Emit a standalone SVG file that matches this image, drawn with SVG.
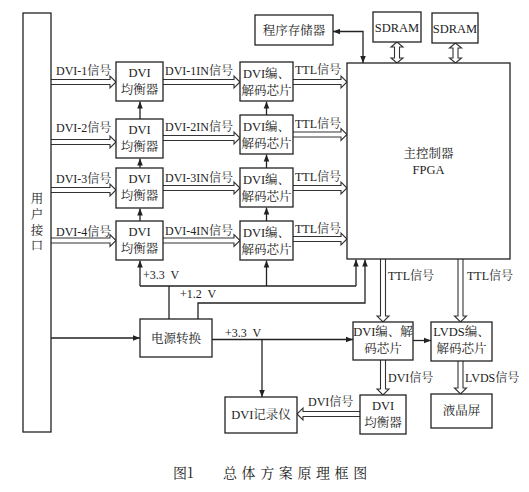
<svg xmlns="http://www.w3.org/2000/svg" width="529" height="492" viewBox="0 0 529 492">
<defs>
<style>
.box{fill:#fff;stroke:#222;stroke-width:1.3}
.ln{fill:none;stroke:#222;stroke-width:1.3}
.fat{fill:#fff;stroke:#333;stroke-width:1.1;stroke-linejoin:miter}
.t{font-family:"Liberation Serif","Noto Serif CJK SC","Noto Sans CJK SC",serif;font-size:12.5px;fill:#222}
.c{text-anchor:middle}
.l{font-family:"Liberation Serif","Noto Serif CJK SC","Noto Sans CJK SC",serif;font-size:12px;fill:#222}
.cap{font-family:"Noto Serif CJK SC","Noto Sans CJK SC",serif;font-size:14px;fill:#222}
</style>
<marker id="ah" viewBox="0 0 10 10" refX="10" refY="5" markerWidth="7" markerHeight="7" markerUnits="userSpaceOnUse" orient="auto-start-reverse">
<path d="M0,1 L10,5 L0,9 z" fill="#222"/>
</marker>
</defs>
<rect width="529" height="492" fill="#fff"/>

<g id="connectors">
<!-- input DVI fat arrows -->
<path class="fat" d="M51,79.5 H110 V76 L116,82 L110,88 V84.5 H51"/>
<path class="fat" d="M51,139.5 H110 V136 L116,142 L110,148 V144.5 H51"/>
<path class="fat" d="M51,187.5 H110 V184 L116,190 L110,196 V192.5 H51"/>
<path class="fat" d="M51,238 H110 V234.5 L116,240.5 L110,246.5 V243 H51"/>
<!-- DVI-nIN fat arrows -->
<path class="fat" d="M163,79.5 H234 V76 L240,82 L234,88 V84.5 H163"/>
<path class="fat" d="M163,135.5 H234 V132 L240,138 L234,144 V140.5 H163"/>
<path class="fat" d="M163,185.5 H234 V182 L240,188 L234,194 V190.5 H163"/>
<path class="fat" d="M163,238 H234 V234.5 L240,240.5 L234,246.5 V243 H163"/>
<!-- TTL to FPGA -->
<path class="fat" d="M293,79.5 H341 V76 L347,82 L341,88 V84.5 H293"/>
<path class="fat" d="M293,132 H341 V128.5 L347,134.5 L341,140.5 V137 H293"/>
<path class="fat" d="M293,185.5 H341 V182 L347,188 L341,194 V190.5 H293"/>
<path class="fat" d="M293,236.5 H341 V233 L347,239 L341,245 V241.5 H293"/>
<!-- vertical single arrows between equalizers / codecs -->
<line class="ln" x1="140" y1="119" x2="140" y2="101.5" marker-end="url(#ah)"/>
<line class="ln" x1="140" y1="168" x2="140" y2="158.5" marker-end="url(#ah)"/>
<line class="ln" x1="140" y1="221" x2="140" y2="208.5" marker-end="url(#ah)"/>
<line class="ln" x1="266.5" y1="115" x2="266.5" y2="101.5" marker-end="url(#ah)"/>
<line class="ln" x1="266.5" y1="168" x2="266.5" y2="154.5" marker-end="url(#ah)"/>
<line class="ln" x1="266.5" y1="221" x2="266.5" y2="207.5" marker-end="url(#ah)"/>
<!-- power rails -->
<polyline class="ln" points="169,319 169,286"/>
<line class="ln" x1="140" y1="286" x2="356" y2="286"/>
<line class="ln" x1="140" y1="286" x2="140" y2="260.5" marker-end="url(#ah)"/>
<line class="ln" x1="266.5" y1="286" x2="266.5" y2="260.5" marker-end="url(#ah)"/>
<line class="ln" x1="356" y1="286" x2="356" y2="259.5" marker-end="url(#ah)"/>
<polyline class="ln" points="198,319 198,303 365,303 365,259.5" marker-end="url(#ah)"/>
<!-- user interface to power -->
<line class="ln" x1="51" y1="338" x2="140" y2="338" marker-end="url(#ah)"/>
<!-- power +3.3 to DVI codec & recorder -->
<line class="ln" x1="212" y1="339.5" x2="353" y2="339.5" marker-end="url(#ah)"/>
<line class="ln" x1="262" y1="339.5" x2="262" y2="397" marker-end="url(#ah)"/>
<!-- DVI codec to LVDS codec -->
<line class="ln" x1="413" y1="340.5" x2="431" y2="340.5" marker-end="url(#ah)"/>
<!-- program memory bidirectional -->
<polyline class="ln" points="333,31.5 363,31.5 363,63" marker-start="url(#ah)" marker-end="url(#ah)"/>
<!-- SDRAM bidirectional fat arrows -->
<path class="fat" d="M394.5,47 V58 H391 L397,63 L403,58 H399.5 V47 H403 L397,42 L391,47 Z"/>
<path class="fat" d="M453,48 V58 H449.5 L455.5,63 L461.5,58 H458 V48 H461.5 L455.5,43 L449.5,48 Z"/>
<!-- TTL down fat arrows -->
<path class="fat" d="M380.5,259 V316 H377 L383,322 L389,316 H385.5 V259"/>
<path class="fat" d="M458,259 V316 H454.5 L460.5,322 L466.5,316 H463 V259"/>
<!-- DVI signal down / LVDS signal down -->
<path class="fat" d="M380.5,360 V389 H377 L383,395 L389,389 H385.5 V360"/>
<path class="fat" d="M458,361 V388 H454.5 L460.5,394 L466.5,388 H463 V361"/>
<!-- balancer to recorder -->
<path class="fat" d="M360,411.5 H303 V408 L297,414 L303,420 V416.5 H360"/>
</g>

<g id="user-interface">
<rect class="box" x="23" y="13" width="28" height="419"/>
<text class="t c" x="37" y="203">用</text>
<text class="t c" x="37" y="219">户</text>
<text class="t c" x="37" y="235">接</text>
<text class="t c" x="37" y="250">口</text>
</g>

<g id="eq1"><rect class="box" x="116" y="62" width="47" height="39"/>
<text class="t c" x="139.5" y="77">DVI</text><text class="t c" x="139.5" y="94">均衡器</text></g>
<g id="eq2"><rect class="box" x="116" y="119" width="47" height="39"/>
<text class="t c" x="139.5" y="134">DVI</text><text class="t c" x="139.5" y="151">均衡器</text></g>
<g id="eq3"><rect class="box" x="116" y="168" width="47" height="40"/>
<text class="t c" x="139.5" y="183">DVI</text><text class="t c" x="139.5" y="200">均衡器</text></g>
<g id="eq4"><rect class="box" x="116" y="221" width="47" height="39"/>
<text class="t c" x="139.5" y="236">DVI</text><text class="t c" x="139.5" y="253">均衡器</text></g>

<g id="codec1"><rect class="box" x="240" y="62" width="53" height="39"/>
<text class="t c" x="266.5" y="78">DVI编、</text><text class="t c" x="266.5" y="95">解码芯片</text></g>
<g id="codec2"><rect class="box" x="240" y="115" width="53" height="39"/>
<text class="t c" x="266.5" y="131">DVI编、</text><text class="t c" x="266.5" y="148">解码芯片</text></g>
<g id="codec3"><rect class="box" x="240" y="168" width="53" height="39"/>
<text class="t c" x="266.5" y="184">DVI编、</text><text class="t c" x="266.5" y="201">解码芯片</text></g>
<g id="codec4"><rect class="box" x="240" y="221" width="53" height="39"/>
<text class="t c" x="266.5" y="237">DVI编、</text><text class="t c" x="266.5" y="254">解码芯片</text></g>

<g id="fpga"><rect class="box" x="347" y="63" width="163" height="196"/>
<text class="t c" x="428.5" y="158">主控制器</text><text class="t c" x="428.5" y="174">FPGA</text></g>

<g id="prog-mem"><rect class="box" x="255" y="15" width="78" height="30"/>
<text class="t c" x="294" y="35">程序存储器</text></g>
<g id="sdram1"><rect class="box" x="373" y="12" width="48" height="30"/>
<text class="t c" x="397" y="32">SDRAM</text></g>
<g id="sdram2"><rect class="box" x="432" y="13" width="46" height="30"/>
<text class="t c" x="455" y="33">SDRAM</text></g>

<g id="power"><rect class="box" x="140" y="319" width="72" height="38"/>
<text class="t c" x="176" y="343">电源转换</text></g>

<g id="dvi-codec"><rect class="box" x="353" y="322" width="60" height="38"/>
<text class="t c" x="383" y="336">DVI编、解</text><text class="t c" x="383" y="353">码芯片</text></g>
<g id="lvds-codec"><rect class="box" x="431" y="322" width="61" height="39"/>
<text class="t c" x="461.5" y="336">LVDS编、</text><text class="t c" x="461.5" y="353">解码芯片</text></g>
<g id="dvi-balancer"><rect class="box" x="360" y="395" width="46" height="39"/>
<text class="t c" x="383" y="410">DVI</text><text class="t c" x="383" y="427">均衡器</text></g>
<g id="lcd"><rect class="box" x="431" y="394" width="61" height="34"/>
<text class="t c" x="461.5" y="415">液晶屏</text></g>
<g id="recorder"><rect class="box" x="225" y="397" width="72" height="36"/>
<text class="t c" x="261" y="419">DVI记录仪</text></g>

<g id="labels">
<text class="l" x="56" y="75">DVI-1信号</text>
<text class="l" x="56" y="132">DVI-2信号</text>
<text class="l" x="56" y="183">DVI-3信号</text>
<text class="l" x="56" y="236">DVI-4信号</text>
<text class="l" x="165" y="75">DVI-1IN信号</text>
<text class="l" x="165" y="131">DVI-2IN信号</text>
<text class="l" x="165" y="182">DVI-3IN信号</text>
<text class="l" x="165" y="235">DVI-4IN信号</text>
<text class="l" x="295" y="74">TTL信号</text>
<text class="l" x="295" y="128">TTL信号</text>
<text class="l" x="295" y="181">TTL信号</text>
<text class="l" x="295" y="233">TTL信号</text>
<text class="l" x="143" y="279" xml:space="preserve">+3.3  V</text>
<text class="l" x="180" y="298" xml:space="preserve">+1.2  V</text>
<text class="l" x="225" y="337" xml:space="preserve">+3.3  V</text>
<text class="l" x="388" y="280">TTL信号</text>
<text class="l" x="467" y="280">TTL信号</text>
<text class="l" x="388" y="382">DVI信号</text>
<text class="l" x="465" y="382">LVDS信号</text>
<text class="l" x="308" y="406">DVI信号</text>
</g>

<g id="caption">
<text class="cap" x="173" y="478">图1</text>
<text class="cap" x="223" y="478" letter-spacing="4.6">总体方案原理框图</text>
</g>
</svg>
